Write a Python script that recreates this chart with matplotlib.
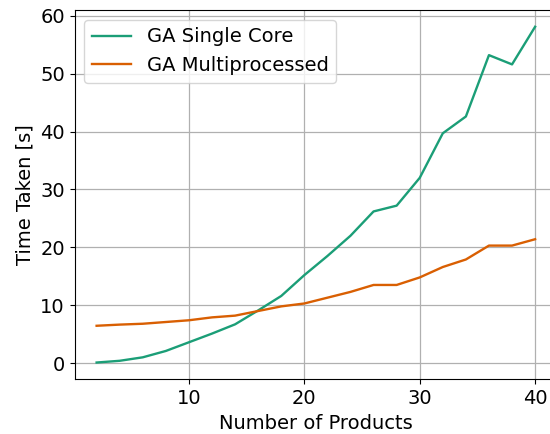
import matplotlib
matplotlib.use("Agg")
import matplotlib.pyplot as plt

products = [2, 4, 6, 8, 10, 12, 14, 16, 18, 20, 22, 24, 26, 28, 30, 32, 34, 36, 38, 40]
single_core = [0.1, 0.4, 1.0, 2.1, 3.6, 5.1, 6.7, 9.1, 11.6, 15.2, 18.5, 22.0, 26.2, 27.2,
               32.0, 39.7, 42.6, 53.2, 51.6, 58.1]
multiprocessed = [6.45, 6.65, 6.8, 7.1, 7.4, 7.9, 8.2, 9.0, 9.8, 10.3, 11.3, 12.3, 13.5, 13.5,
                  14.8, 16.6, 17.9, 20.3, 20.3, 21.4]

colors = plt.get_cmap("Dark2").colors

fig = plt.figure(figsize=(5.5, 4.34), dpi=100)
ax = fig.add_axes([0.1358, 0.126, 0.877, 0.851])

ax.plot(products, single_core, color=colors[0], lw=1.7, label="GA Single Core")
ax.plot(products, multiprocessed, color=colors[1], lw=1.7, label="GA Multiprocessed")

ax.set_xticks([10, 20, 30, 40])
ax.set_yticks([0, 10, 20, 30, 40, 50, 60])
ax.grid(True, color="#b0b0b0", lw=0.9)
ax.tick_params(labelsize=14)
ax.set_xlabel("Number of Products", fontsize=14)
ax.set_ylabel("Time Taken [s]", fontsize=14)
ax.legend(loc="upper left", fontsize=14)

fig.savefig("out.png", dpi=100)
